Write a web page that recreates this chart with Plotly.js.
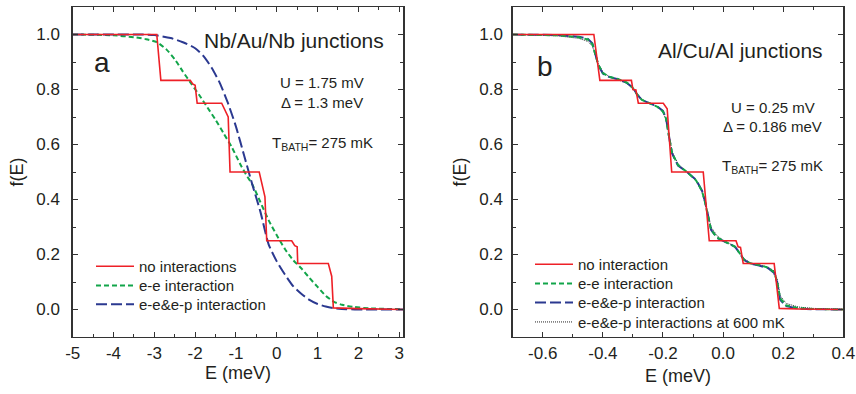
<!DOCTYPE html>
<html>
<head>
<meta charset="utf-8">
<script src="https://cdn.plot.ly/plotly-3.0.1.min.js"></script>
<style>html,body{margin:0;padding:0;background:#fff}#chart{width:856px;height:394px}</style>
</head>
<body>
<div id="chart"></div>
<script>
// ---------- Panel a: Nb/Au/Nb ----------
const eA_none = [-5, -2.94, -2.84, -2.12, -2.06, -2.0, -1.95, -1.35, -1.19, -1.145, -0.43, -0.29, -0.246, 0.366, 0.44, 0.5, 0.513, 1.263, 1.346, 1.386, 2.0, 3.1];
const fA_none = [1.0, 1.0, 0.833, 0.833, 0.82, 0.815, 0.75, 0.75, 0.70, 0.5, 0.5, 0.41, 0.25, 0.25, 0.232, 0.228, 0.167, 0.167, 0.121, 0.006, 0.003, 0.0];

const eA_ee = [-5, -4, -3.5, -3.2, -2.94, -2.7, -2.5, -2.3, -2.1, -1.9, -1.7, -1.5, -1.3, -1.1, -0.9, -0.75, -0.6, -0.4, -0.2, 0.0, 0.2, 0.4, 0.6, 0.8, 1.0, 1.2, 1.4, 1.6, 1.9, 2.3, 3.1];
const fA_ee = [1.0, 0.997, 0.99, 0.983, 0.972, 0.945, 0.91, 0.865, 0.822, 0.78, 0.735, 0.69, 0.64, 0.59, 0.53, 0.49, 0.455, 0.39, 0.325, 0.27, 0.22, 0.18, 0.15, 0.115, 0.082, 0.05, 0.028, 0.017, 0.009, 0.004, 0.001];

const eA_eep = [-5, -3.4, -3.0, -2.6, -2.3, -2.0, -1.8, -1.6, -1.4, -1.2, -1.0, -0.8, -0.6, -0.4, -0.2, 0.0, 0.2, 0.4, 0.6, 0.8, 1.0, 1.2, 1.4, 1.7, 2.1, 3.1];
const fA_eep = [1.0, 1.0, 0.998, 0.987, 0.972, 0.95, 0.922, 0.88, 0.825, 0.752, 0.665, 0.56, 0.455, 0.355, 0.237, 0.175, 0.127, 0.085, 0.057, 0.035, 0.02, 0.011, 0.005, 0.001, 0.0, 0.0];

// ---------- Panel b: Al/Cu/Al ----------
const eB_none = [-0.7, -0.43, -0.41, -0.305, -0.300, -0.29, -0.282, -0.199, -0.186, -0.171, -0.066, -0.046, 0.043, 0.05, 0.058, 0.067, 0.17, 0.187, 0.25, 0.4];
const fB_none = [1.0, 1.0, 0.833, 0.833, 0.80, 0.798, 0.75, 0.75, 0.73, 0.5, 0.5, 0.25, 0.25, 0.228, 0.226, 0.167, 0.167, 0.004, 0.002, 0.0];

const eB = [-0.7, -0.55, -0.48, -0.45, -0.435, -0.425, -0.415, -0.40, -0.38, -0.35, -0.32, -0.30, -0.285, -0.27, -0.25, -0.22, -0.20, -0.19, -0.18, -0.17, -0.15, -0.12, -0.09, -0.07, -0.06, -0.05, -0.04, -0.02, 0.0, 0.02, 0.04, 0.055, 0.07, 0.09, 0.12, 0.15, 0.17, 0.18, 0.19, 0.21, 0.25, 0.3, 0.4];
const fB_ee = [1.0, 0.997, 0.99, 0.982, 0.965, 0.93, 0.89, 0.86, 0.847, 0.838, 0.825, 0.805, 0.78, 0.762, 0.752, 0.738, 0.72, 0.695, 0.63, 0.57, 0.525, 0.50, 0.47, 0.43, 0.39, 0.34, 0.29, 0.262, 0.25, 0.24, 0.228, 0.205, 0.18, 0.168, 0.162, 0.152, 0.135, 0.10, 0.04, 0.015, 0.005, 0.002, 0.0];
const fB_eep = [1.0, 0.998, 0.992, 0.984, 0.968, 0.93, 0.888, 0.858, 0.846, 0.837, 0.824, 0.806, 0.78, 0.762, 0.752, 0.739, 0.722, 0.697, 0.63, 0.568, 0.523, 0.5, 0.472, 0.432, 0.393, 0.34, 0.29, 0.26, 0.249, 0.24, 0.228, 0.205, 0.18, 0.167, 0.16, 0.15, 0.133, 0.098, 0.035, 0.012, 0.003, 0.001, 0.0];
const fB_600 = [1.0, 0.995, 0.986, 0.975, 0.958, 0.928, 0.893, 0.863, 0.848, 0.836, 0.822, 0.803, 0.782, 0.765, 0.753, 0.738, 0.718, 0.69, 0.635, 0.575, 0.53, 0.5, 0.468, 0.428, 0.39, 0.345, 0.3, 0.268, 0.252, 0.241, 0.226, 0.207, 0.185, 0.17, 0.163, 0.154, 0.14, 0.11, 0.05, 0.022, 0.009, 0.004, 0.001];

// tick labels
const xTickValsA = [-5, -4, -3, -2, -1, 0, 1, 2, 3];
const xTickTextA = ["-5", "-4", "-3", "-2", "-1", "0", "1", "2", "3"];
const xTickValsB = [-0.6, -0.4, -0.2, 0.0, 0.2, 0.4];
const xTickTextB = ["-0.6", "-0.4", "-0.2", "0.0", "0.2", "0.4"];
const yTickVals = [0, 0.2, 0.4, 0.6, 0.8, 1.0];
const yTickText = ["0.0", "0.2", "0.4", "0.6", "0.8", "1.0"];

const RED = '#ee2027', GREEN = '#12a54a', BLUE = '#2b3990', BLK = '#222222';
const FONT = 'Liberation Sans, Arial, Helvetica, sans-serif';
const TXT = '#231f20';

const traces = [
  {x: eA_ee, y: fA_ee, xaxis: 'x', yaxis: 'y', mode: 'lines', name: 'e-e interaction', legend: 'legend2',
   line: {color: GREEN, width: 2, dash: '5px,3px', shape: 'spline', smoothing: 0.6}},
  {x: eA_eep, y: fA_eep, xaxis: 'x', yaxis: 'y', mode: 'lines', name: 'e-e&e-p interaction', legend: 'legend3',
   line: {color: BLUE, width: 2, dash: '11px,4px', shape: 'spline', smoothing: 0.6}},
  {x: eA_none, y: fA_none, xaxis: 'x', yaxis: 'y', mode: 'lines', name: 'no interactions', legend: 'legend',
   line: {color: RED, width: 1.6}},

  {x: eB, y: fB_600, xaxis: 'x2', yaxis: 'y2', mode: 'lines', name: 'e-e&e-p interactions at 600 mK', legend: 'legend7',
   line: {color: BLK, width: 1, dash: '1px,1px'}},
  {x: eB, y: fB_eep, xaxis: 'x2', yaxis: 'y2', mode: 'lines', name: 'e-e&e-p interaction', legend: 'legend6',
   line: {color: BLUE, width: 2, dash: '11px,4px'}},
  {x: eB, y: fB_ee, xaxis: 'x2', yaxis: 'y2', mode: 'lines', name: 'e-e interaction', legend: 'legend5',
   line: {color: GREEN, width: 2, dash: '5px,3px'}},
  {x: eB_none, y: fB_none, xaxis: 'x2', yaxis: 'y2', mode: 'lines', name: 'no interaction', legend: 'legend4',
   line: {color: RED, width: 1.6}}
];

function xax(domain, range, tv, tt, minorD, standoff) {
  return {domain: domain, range: range, tickmode: 'array', tickvals: tv, ticktext: tt,
    ticks: 'inside', ticklen: 5, tickwidth: 1, tickcolor: '#333',
    minor: {dtick: minorD, ticks: 'inside', ticklen: 3, tickcolor: '#333', tick0: 0},
    showline: true, linecolor: '#333', linewidth: 1.3, mirror: 'allticks', showgrid: false, zeroline: false,
    tickfont: {family: FONT, size: 17, color: TXT}, ticklabelstandoff: 0,
    title: {text: 'E (meV)', font: {family: FONT, size: 18, color: TXT}, standoff: standoff}};
}
function yax(standoffLbl) {
  return {domain: [0.14467, 0.98223], range: [-0.1, 1.1], tickmode: 'array', tickvals: yTickVals, ticktext: yTickText,
    ticks: 'inside', ticklen: 5, tickwidth: 1, tickcolor: '#333',
    minor: {dtick: 0.1, tick0: 0, ticks: 'inside', ticklen: 3, tickcolor: '#333'},
    showline: true, linecolor: '#333', linewidth: 1.3, mirror: 'allticks', showgrid: false, zeroline: false,
    tickfont: {family: FONT, size: 17, color: TXT}, ticklabelstandoff: standoffLbl,
    title: {text: 'f(E)', font: {family: FONT, size: 18, color: TXT}, standoff: 8}};
}

const ann = (x, y, xr, yr, text, size, xanchor) => ({x: x, y: y, xref: xr, yref: yr, text: text, showarrow: false,
  xanchor: xanchor || 'center', yanchor: 'middle', font: {family: FONT, size: size, color: TXT}});

const leg = (xpx, toppx) => ({x: xpx / 856, y: 1 - toppx / 394, xanchor: 'left', yanchor: 'top', itemwidth: 38,
  bgcolor: 'rgba(0,0,0,0)', borderwidth: 0, font: {family: FONT, size: 15, color: TXT}});

const layout = {
  width: 856, height: 394, margin: {l: 0, r: 0, t: 0, b: 0},
  paper_bgcolor: '#fff', plot_bgcolor: '#fff', showlegend: true,
  xaxis: xax([0.08493, 0.47114], [-5, 3.1], xTickValsA, xTickTextA, 0.5, 0),
  yaxis: Object.assign(yax(8), {anchor: 'x'}),
  xaxis2: Object.assign(xax([0.59895, 0.98516], [-0.7, 0.4], xTickValsB, xTickTextB, 0.1, 7), {anchor: 'y2'}),
  yaxis2: Object.assign(yax(5), {anchor: 'x2'}),
  legend: leg(91, 250),
  legend2: leg(91, 269.3),
  legend3: leg(91, 288),
  legend4: leg(530, 248),
  legend5: leg(530, 267.3),
  legend6: leg(530, 286.3),
  legend7: leg(530, 305.7),
  annotations: [
    ann(2.677, 0.98, 'x', 'y', 'Nb/Au/Nb junctions', 21, 'right'),
    ann(-4.294, 0.90, 'x', 'y', 'a', 28),
    ann(1.12, 0.827, 'x', 'y', 'U = 1.75 mV', 15),
    ann(1.10, 0.754, 'x', 'y', 'Δ = 1.3 meV', 15),
    ann(1.13, 0.605, 'x', 'y', 'T<sub>BATH</sub>= 275 mK', 15),
    ann(0.339, 0.941, 'x2', 'y2', 'Al/Cu/Al junctions', 21, 'right'),
    ann(-0.5925, 0.885, 'x2', 'y2', 'b', 28),
    ann(0.1646, 0.734, 'x2', 'y2', 'U = 0.25 mV', 15),
    ann(0.166, 0.665, 'x2', 'y2', 'Δ = 0.186 meV', 15),
    ann(0.166, 0.52, 'x2', 'y2', 'T<sub>BATH</sub>= 275 mK', 15)
  ]
};

Plotly.newPlot('chart', traces, layout, {displayModeBar: false, staticPlot: true});
</script>
</body>
</html>
